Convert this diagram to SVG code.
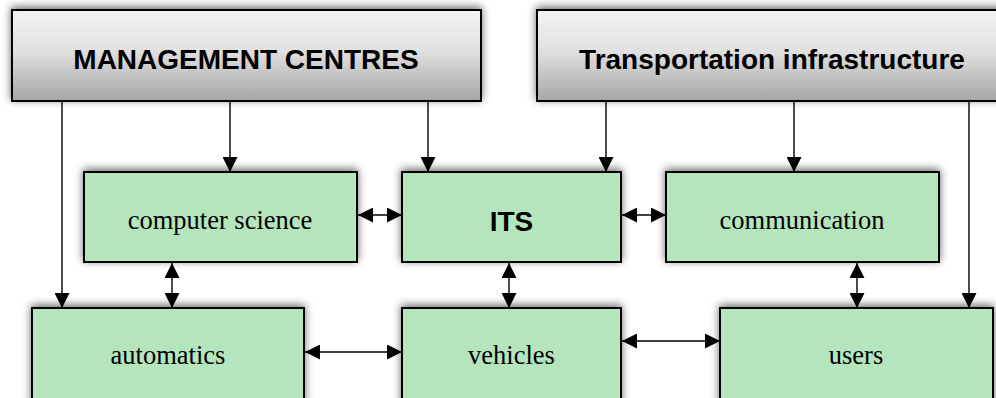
<svg xmlns="http://www.w3.org/2000/svg" width="996" height="398" viewBox="0 0 996 398">
<style>
.top{stroke:#000;stroke-width:2;fill:url(#g);filter:url(#sh)}
.box{stroke:#000;stroke-width:2;fill:#b4e5bc;filter:url(#sh)}
.ht{font-family:"Liberation Sans",Arial,sans-serif;font-weight:bold;font-size:28px;fill:#000;text-anchor:middle}
.t{font-family:"Liberation Serif","Times New Roman",serif;font-size:26.5px;fill:#000;text-anchor:middle}
.c{stroke:#000;stroke-width:1.4;fill:none}
.a{marker-end:url(#ah)}
.d{marker-start:url(#ah);marker-end:url(#ah)}
</style>
<defs>
<linearGradient id="g" x1="0" y1="0" x2="0" y2="1">
<stop offset="0" stop-color="#f4f4f4"/>
<stop offset="0.45" stop-color="#e0e0e0"/>
<stop offset="1" stop-color="#a6a6a6"/>
</linearGradient>
<filter id="sh" x="-10%" y="-20%" width="120%" height="140%">
<feDropShadow dx="0" dy="-2" stdDeviation="4" flood-color="#000" flood-opacity="0.6"/>
</filter>
<marker id="ah" markerUnits="userSpaceOnUse" markerWidth="16" markerHeight="15" refX="15" refY="7.5" orient="auto-start-reverse">
<path d="M0,0 L15,7.5 L0,15 z" fill="#000"/>
</marker>
</defs>
<g id="management-centres"><rect class="top" x="12" y="10" width="469" height="91"/><text class="ht" x="246" y="69">MANAGEMENT CENTRES</text></g>
<g id="transportation-infrastructure"><rect class="top" x="537" y="10" width="470" height="91"/><text class="ht" x="772" y="69">Transportation infrastructure</text></g>
<g id="computer-science"><rect class="box" x="84" y="172" width="273" height="90"/><text class="t" x="220" y="229">computer science</text></g>
<g id="its"><rect class="box" x="402" y="172" width="219" height="90"/><text class="ht" x="511.5" y="231">ITS</text></g>
<g id="communication"><rect class="box" x="666" y="172" width="273" height="90"/><text class="t" x="802" y="229">communication</text></g>
<g id="automatics"><rect class="box" x="32" y="308" width="272" height="100"/><text class="t" x="168" y="364">automatics</text></g>
<g id="vehicles"><rect class="box" x="402" y="308" width="219" height="100"/><text class="t" x="511.5" y="364">vehicles</text></g>
<g id="users"><rect class="box" x="720" y="308" width="273" height="100"/><text class="t" x="856" y="364">users</text></g>
<g id="connectors">
<path class="c a" d="M62,101 V308"/>
<path class="c a" d="M230,101 V172"/>
<path class="c a" d="M428,101 V172"/>
<path class="c a" d="M606,101 V172"/>
<path class="c a" d="M794,101 V172"/>
<path class="c a" d="M969,101 V308"/>
<path class="c d" d="M358,215 H402"/>
<path class="c d" d="M622,215 H666"/>
<path class="c d" d="M305,352 H402"/>
<path class="c d" d="M622,341 H720"/>
<path class="c d" d="M172,263 V308"/>
<path class="c d" d="M509,263 V308"/>
<path class="c d" d="M857,263 V308"/>
</g>
</svg>
